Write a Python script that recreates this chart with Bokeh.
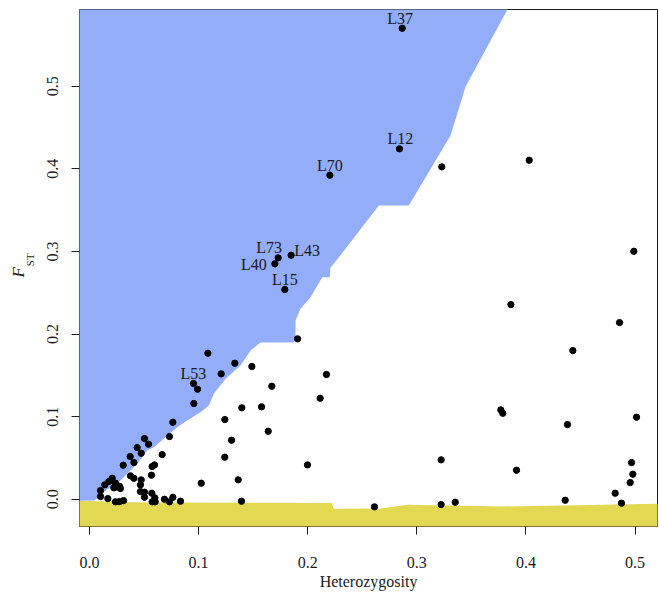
from bokeh.plotting import figure
from bokeh.models import Range1d, FixedTicker, NumeralTickFormatter, Title, ColumnDataSource
from bokeh.embed import file_html
from bokeh.resources import INLINE
from bokeh.core.properties import value

# ---- data: loci (heterozygosity, F_ST) ----
het = [0.3229, 0.4030, 0.4989, 0.3862, 0.4858, 0.1907, 0.4430, 0.2172, 0.2114, 0.3770,
       0.3788, 0.5014, 0.4381, 0.1998, 0.3223, 0.3914, 0.4968, 0.4980, 0.4956, 0.4818,
       0.4876, 0.4360, 0.3352, 0.3223, 0.2612, 0.1085, 0.1332, 0.1488, 0.1207, 0.0990,
       0.1671, 0.0956, 0.1396, 0.1577, 0.1240, 0.0764, 0.1638, 0.0733, 0.1302, 0.0504,
       0.0541, 0.0437, 0.0474, 0.0373, 0.0407, 0.0666, 0.1240, 0.0596, 0.0574, 0.0309,
       0.0568, 0.0376, 0.0407, 0.0474, 0.1024, 0.1363, 0.0208, 0.0177, 0.0140, 0.0101,
       0.0238, 0.0275, 0.0223, 0.0467, 0.0467, 0.0504, 0.0571, 0.0101, 0.0504, 0.0168,
       0.0599, 0.0687, 0.0764, 0.0238, 0.0275, 0.0312, 0.0574, 0.0602, 0.0733, 0.0834,
       0.1393, 0.0248, 0.0283]
fst = [0.4024, 0.4104, 0.3002, 0.2357, 0.2139, 0.1942, 0.1800, 0.1510, 0.1223, 0.1082,
       0.1041, 0.0993, 0.0904, 0.0416, 0.0477, 0.0351, 0.0444, 0.0303, 0.0202, 0.0073,
       -0.0048, -0.0012, -0.0036, -0.0064, -0.0092, 0.1768, 0.1647, 0.1607, 0.1518, 0.1332,
       0.1368, 0.1159, 0.1107, 0.1119, 0.0965, 0.0932, 0.0823, 0.0759, 0.0714, 0.0735,
       0.0666, 0.0626, 0.0557, 0.0517, 0.0444, 0.0541, 0.0509, 0.0416, 0.0396, 0.0412,
       0.0291, 0.0283, 0.0254, 0.0235, 0.0194, 0.0235, 0.0254, 0.0214, 0.0174, 0.0105,
       0.0194, 0.0157, 0.0138, 0.0174, 0.0093, 0.0085, 0.0073, 0.0033, 0.0024, 0.0008,
       0.0017, 0.0000, 0.0024, -0.0031, -0.0028, -0.0016, -0.0031, -0.0031, -0.0031, -0.0024,
       -0.0024, 0.0150, 0.0130]

# labelled outlier loci
lab_names = ["L37", "L12", "L70", "L73", "L43", "L40", "L15", "L53"]
lab_het = [0.2866, 0.2841, 0.2203, 0.1729, 0.1848, 0.1699, 0.1790, 0.0953]
lab_fst = [0.5702, 0.4242, 0.3923, 0.2922, 0.2954, 0.2850, 0.2539, 0.1401]

# simulated envelope boundaries
blue_het = [0.4067, 0.3831, 0.3446, 0.3416, 0.3309, 0.2927, 0.2652, 0.2239, 0.2209, 0.2203,
            0.2133, 0.2026, 0.1934, 0.1888, 0.1888, 0.1870, 0.1567, 0.1476, 0.1384, 0.1247,
            0.1139, 0.1094, 0.1017, 0.0895, 0.0804, 0.0697, 0.0589, 0.0528, 0.0437, 0.0284,
            0.0220, 0.0101, 0.0070, 0.0040, -0.05, -0.05]
blue_fst = [0.65, 0.5928, 0.4994, 0.4862, 0.4403, 0.3556, 0.3556, 0.2850, 0.2809, 0.2688,
            0.2688, 0.2446, 0.2305, 0.2164, 0.1942, 0.1897, 0.1897, 0.1800, 0.1618, 0.1458,
            0.1276, 0.1134, 0.1053, 0.0953, 0.0872, 0.0751, 0.0630, 0.0590, 0.0429, 0.0226,
            0.0166, 0.0063, 0.0005, -0.0016, -0.0028, 0.65]
yellow_het = [-0.05, 0.01, 0.05, 0.2218, 0.2239, 0.2667, 0.2912, 0.3767, 0.5206, 0.56, 0.56, -0.05]
yellow_fst = [-0.0016, -0.0025, -0.0040, -0.0044, -0.0116, -0.0113, -0.0068, -0.0088, -0.0056,
              -0.0055, -0.06, -0.06]

x_ticks = [0.0, 0.1, 0.2, 0.3, 0.4, 0.5]
y_ticks = [0.0, 0.1, 0.2, 0.3, 0.4, 0.5]

# ---- figure ----
FONT = "Liberation Serif"
INK = "#1a1a1a"

p = figure(frame_width=578, frame_height=517,
           x_range=Range1d(-0.00917, 0.5206), y_range=Range1d(-0.0330, 0.5929),
           output_backend="svg", toolbar_location=None,
           min_border_left=79, min_border_top=9, min_border_right=2, min_border_bottom=0)
p.background_fill_color = "white"
p.border_fill_color = "white"
p.grid.visible = False
p.outline_line_color = INK
p.outline_line_width = 1
p.outline_line_alpha = 1

p.patch(blue_het, blue_fst, fill_color="#93adf9", line_color=None)
p.patch(yellow_het, yellow_fst, fill_color="#e2d852", line_color=None)

p.scatter(het, fst, size=6.3, color="black")
p.scatter(lab_het, lab_fst, size=6.3, color="black")

# label placement (screen-pixel offsets, styling only)
x_off = {"L37": -2, "L12": 1, "L73": -9, "L43": 3, "L40": -8}
y_off = {"L43": -5, "L40": 1}
align = {"L43": "left", "L40": "right"}
src_lab = ColumnDataSource(dict(
    x=lab_het, y=lab_fst, t=lab_names,
    xo=[x_off.get(n, 0) for n in lab_names],
    yo=[y_off.get(n, -10) for n in lab_names],
))
for a in ("center", "left", "right"):
    idx = [i for i, n in enumerate(lab_names) if align.get(n, "center") == a]
    sub = ColumnDataSource({k: [v[i] for i in idx] for k, v in src_lab.data.items()})
    p.text(x="x", y="y", text="t", source=sub, x_offset="xo", y_offset="yo",
           text_align=a, text_baseline="middle",
           text_font=value(FONT), text_font_size="16px", text_color=INK)

# axes
for ax in (p.xaxis, p.yaxis):
    ax.axis_line_color = None
    ax.major_tick_line_color = INK
    ax.major_tick_in = 0
    ax.major_tick_out = 8
    ax.minor_tick_line_color = None
    ax.major_label_text_font = FONT
    ax.major_label_text_font_size = "16px"
    ax.major_label_text_color = INK
    ax.formatter = NumeralTickFormatter(format="0.0")

p.xaxis.ticker = FixedTicker(ticks=x_ticks)
p.yaxis.ticker = FixedTicker(ticks=y_ticks)
p.xaxis.major_label_standoff = 22
p.yaxis.major_label_standoff = 13
p.yaxis.major_label_orientation = "vertical"

p.xaxis.axis_label = "Heterozygosity"
p.xaxis.axis_label_text_font = FONT
p.xaxis.axis_label_text_font_style = "normal"
p.xaxis.axis_label_text_font_size = "16px"
p.xaxis.axis_label_text_color = INK
p.xaxis.axis_label_standoff = 2

# y label: italic F with subscript ST; the subscript is the axis label (nearer the axis),
# lifted by leading em/en spaces; the F is a left title placed from the frame bottom
p.yaxis.axis_label = "\u2003\u2002ST"
p.yaxis.axis_label_text_font = FONT
p.yaxis.axis_label_text_font_style = "normal"
p.yaxis.axis_label_text_font_size = "11px"
p.yaxis.axis_label_text_color = INK
p.yaxis.axis_label_standoff = 9
p.add_layout(Title(text="F", text_font=FONT, text_font_size="17px", text_font_style="italic",
                   text_color=INK, align="left", offset=249, standoff=-14), "left")

open("out.html", "w").write(file_html(p, INLINE))
